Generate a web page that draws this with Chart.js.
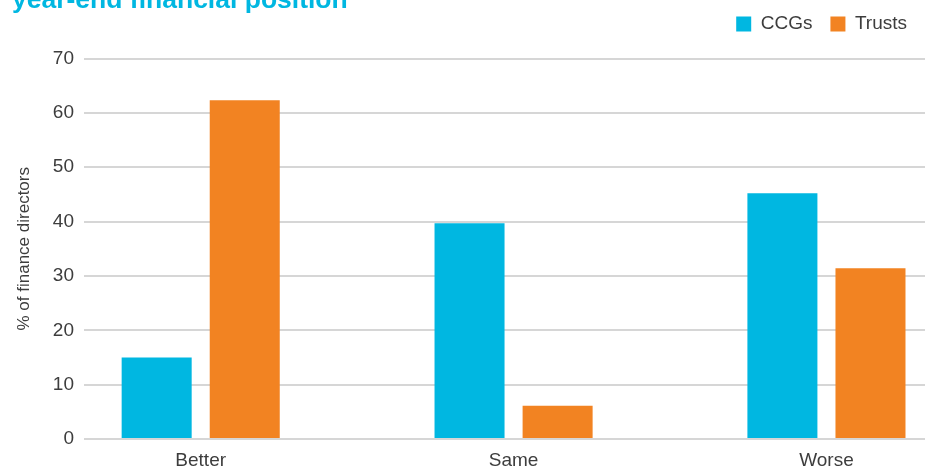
<!DOCTYPE html>
<html>
<head>
<meta charset="utf-8">
<script src="https://cdn.jsdelivr.net/npm/chart.js@4/dist/chart.umd.min.js"></script>
<style>
  html, body { margin: 0; padding: 0; background: #fff; }
  #wrap { position: relative; width: 925px; height: 471px; overflow: hidden; }
  #finChart { position: absolute; left: 0; top: -13px; }
</style>
</head>
<body>
<div id="wrap">
  <canvas id="finChart" width="925" height="484"></canvas>
</div>
<script>
// Chart values
const categories = ["Better", "Same", "Worse"];
const ccgValues = [15, 39.7, 45.2];
const trustValues = [62.3, 6.1, 31.4];
const yTicks = [0, 10, 20, 30, 40, 50, 60, 70];

const cyan = "#00b7e1";
const orange = "#f28322";
const textColor = "#3d3d3d";

Chart.defaults.font.family = "'Liberation Sans', Arial, sans-serif";
Chart.defaults.color = textColor;

// bars sit on a linear index axis so the category spacing can match the original
function toPoints(values) {
    return values.map((v, i) => ({ x: i, y: v }));
}

// leave some room between the legend and the plot
const legendGap = {
    id: "legendGap",
    beforeInit(chart) {
        const fit = chart.legend.fit;
        chart.legend.fit = function () {
            fit.bind(chart.legend)();
            this.height += 15;
        };
    },
};

document.addEventListener("DOMContentLoaded", () => {
    const ctx = document.getElementById("finChart").getContext("2d");

    new Chart(ctx, {
        type: "bar",
        data: {
            datasets: [
                {
                    label: "CCGs",
                    data: toPoints(ccgValues),
                    backgroundColor: cyan,
                    categoryPercentage: 0.563,
                    barPercentage: 0.795,
                },
                {
                    label: "Trusts",
                    data: toPoints(trustValues),
                    backgroundColor: orange,
                    categoryPercentage: 0.563,
                    barPercentage: 0.795,
                },
            ],
        },
        plugins: [legendGap],
        options: {
            responsive: false,
            animation: false,
            layout: { padding: { left: 12, right: 0, top: 0, bottom: 0 } },
            plugins: {
                title: {
                    display: true,
                    text: "year-end financial position",
                    align: "start",
                    color: cyan,
                    font: { size: 26.5, weight: "bold", lineHeight: 1 },
                    padding: { top: 0, bottom: -17 },
                },
                legend: {
                    position: "top",
                    align: "end",
                    labels: {
                        boxWidth: 15,
                        boxHeight: 15,
                        padding: 18,
                        font: { size: 19 },
                        color: textColor,
                    },
                },
                tooltip: { enabled: false },
            },
            scales: {
                x: {
                    type: "linear",
                    min: -0.373,
                    max: 2.315,
                    offset: false,
                    grid: { display: false, offset: false, drawTicks: false },
                    border: { display: false },
                    afterBuildTicks: (scale) => {
                        scale.ticks = categories.map((c, i) => ({ value: i }));
                    },
                    afterFit: (scale) => {
                        scale.height = 32;
                    },
                    ticks: {
                        autoSkip: false,
                        maxRotation: 0,
                        padding: 10,
                        font: { size: 19 },
                        callback: (value) => categories[value],
                    },
                },
                y: {
                    min: 0,
                    max: 70,
                    afterBuildTicks: (scale) => {
                        scale.ticks = yTicks.map((v) => ({ value: v }));
                    },
                    afterFit: (scale) => {
                        scale.width = 72;
                    },
                    grid: { color: "#d6d6d6", lineWidth: 2, drawTicks: false },
                    border: { display: false },
                    ticks: { padding: 10, font: { size: 19 } },
                    title: {
                        display: true,
                        text: "% of finance directors",
                        font: { size: 17 },
                        padding: { top: 2, bottom: 0 },
                    },
                },
            },
        },
    });
});
</script>
</body>
</html>
